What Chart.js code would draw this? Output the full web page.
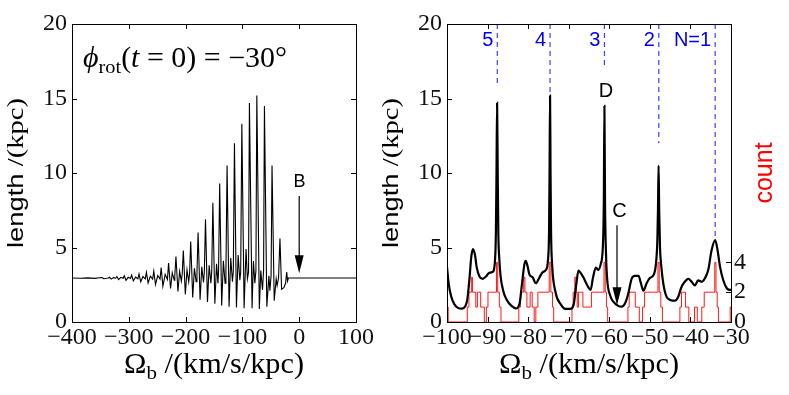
<!DOCTYPE html>
<html>
<head>
<meta charset="utf-8">
<script src="https://cdn.jsdelivr.net/npm/chart.js@4.4.1/dist/chart.umd.min.js"></script>
<style>
html, body { margin: 0; padding: 0; background: #fff; }
#wrap { position: relative; width: 789px; height: 395px; overflow: hidden; }
canvas { position: absolute; top: 0; }
#left { left: 0; }
#right { left: 375px; }
</style>
</head>
<body>
<div id="wrap">
  <canvas id="left" width="390" height="395"></canvas>
  <canvas id="right" width="414" height="395"></canvas>
</div>
<script>
// left panel: bar length vs pattern speed, full range
const leftX = [-400, -385, -372, -360, -352, -347, -344, -336,
  -334, -331, -327, -323, -321, -318, -314, -310, -308, -305, -301, -297,
  -295, -292, -288, -284, -282, -279, -275, -271, -269, -266, -262, -258,
  -256, -253, -249, -245, -243, -240, -236, -232, -230, -226.5, -223.5, -220, -219,
  -217, -213.5, -210.5, -207.5, -206, -204, -200.5, -197.5, -194.5, -193,
  -191, -187.5, -184.5, -181.5, -180, -178, -174.5, -171.5, -168.5, -167,
  -165, -161.5, -158.5, -155.5, -154, -152, -148.5, -145.5, -143, -142,
  -140, -136.5, -133.5, -130.5, -129, -127, -123.5, -120.5, -117.5, -116,
  -114, -110.5, -107.5, -104.5, -103, -101, -97, -93.6, -91.2, -89.2,
  -87.65, -83, -80.6, -78.1, -76.2, -74.6, -70.2, -67.6, -64.6, -62.7,
  -61.2, -57, -53.3, -51.6, -49.5, -47.85, -44, -40.5, -38.9, -36.4,
  -33.9, -31, -27, -24, -22, -20.5, -19, 0, 40, 100];
const leftY = [2.95, 2.94, 2.96, 2.93, 2.97, 2.99, 2.9, 2.95,
  3.0, 2.88, 2.98, 2.94, 3.05, 2.85, 3.0, 2.93, 3.1, 2.8, 3.0, 2.92,
  3.15, 2.76, 3.02, 2.9, 3.22, 2.7, 3.05, 2.9, 3.33, 2.62, 3.08, 2.88,
  3.42, 2.52, 3.12, 2.88, 3.65, 2.4, 3.2, 2.85, 3.95, 2.25, 3.3, 2.8, 3.1,
  4.4, 2.05, 3.4, 2.75, 3.2, 4.8, 1.85, 3.5, 2.7, 3.25,
  5.4, 1.65, 3.6, 2.7, 3.3, 6.0, 1.5, 3.7, 2.65, 3.35,
  6.9, 1.35, 3.8, 2.6, 3.4, 8.0, 1.22, 3.9, 2.6, 3.4,
  9.3, 1.1, 4.1, 2.6, 3.4, 10.5, 1.03, 4.3, 2.7, 3.4,
  12.0, 0.97, 4.5, 2.8, 3.35, 13.3, 0.92, 4.9, 2.9, 3.35,
  14.7, 0.92, 4.1, 2.6, 3.45, 15.2, 0.88, 3.45, 2.15, 3.5,
  14.5, 1.03, 3.1, 2.1, 3.1, 10.5, 1.43, 2.9, 2.45, 2.95,
  5.6, 2.2, 2.3, 2.6, 3.35, 2.75, 2.95, 2.95, 2.95, 2.95];

// right panel: zoom on -100..-30
const rightX = [-100, -99.6, -99.0, -98.2, -97.3, -96.3, -95.5, -95.0, -94.5, -94.0,
  -93.6, -93.1, -92.7, -92.0, -91.2, -90.4, -89.6, -88.8, -88.2, -87.95,
  -87.8, -87.65, -87.5, -87.35, -87.1, -86.8, -86.1, -85.3, -84.1, -83.0,
  -82.1, -81.5, -80.9, -80.6, -80.1, -79.7, -78.9, -78.1, -77.2, -76.4,
  -75.6, -75.1, -74.85, -74.72, -74.6, -74.48, -74.35, -74.1, -73.2, -72.0,
  -70.8, -69.6, -68.8, -68.1, -67.6, -67.2, -66.4, -65.2, -64.6, -64.0,
  -63.3, -62.7, -62.1, -61.6, -61.35, -61.2, -61.05, -60.8, -60.5, -59.8,
  -59.0, -57.8, -57.0, -56.1, -55.3, -54.5, -53.7, -52.8, -52.2, -51.6,
  -50.8, -50.0, -49.1, -48.5, -48.15, -48.0, -47.85, -47.7, -47.5, -47.2,
  -46.7, -45.9, -45.0, -43.8, -43.0, -42.2, -41.4, -40.5, -39.7, -38.9,
  -38.1, -37.2, -36.4, -35.6, -34.8, -33.9, -33.3, -32.7, -31.9, -31.0,
  -30.2, -30];
const rightY = [3.7, 2.6, 1.75, 1.2, 0.95, 0.9, 1.05, 1.5, 2.8, 4.4,
  4.9, 4.5, 3.7, 3.05, 2.9, 3.05, 3.3, 3.35, 4.0, 6.0,
  10, 14.7, 10, 6.0, 4.2, 3.1, 2.05, 1.5, 1.08, 0.92,
  1.25, 2.6, 3.9, 4.1, 3.7, 3.2, 3.0, 2.6, 3.0, 3.35,
  3.5, 4.2, 6.0, 10, 15.2, 10, 6.0, 3.9, 1.95, 1.2,
  0.88, 0.88, 1.15, 2.6, 3.45, 3.35, 3.0, 2.35, 2.15, 3.0,
  3.65, 3.5, 3.9, 5.0, 8.0, 14.5, 8.0, 4.5, 2.8, 1.8,
  1.36, 1.08, 1.03, 1.26, 1.93, 2.9, 3.1, 3.1, 2.6, 2.1,
  2.6, 2.95, 3.15, 3.9, 5.5, 7.5, 10.5, 7.5, 5.0, 3.8,
  2.6, 1.7, 1.48, 1.43, 1.7, 2.35, 2.7, 2.9, 2.7, 2.45,
  2.8, 2.7, 2.95, 3.5, 4.8, 5.5, 4.8, 3.7, 2.8, 2.25,
  2.15, 2.15];

// count histogram (step starts and counts)
const histEdges = [-100, -99.7, -95.0, -94.6, -94.0, -93.7, -92.9, -92.5, -91.7, -90.8,
  -90.3, -89.9, -87.8, -87.5, -87.1, -86.7, -82.3, -81.9, -81.1, -80.8,
  -80.3, -79.5, -79.0, -78.5, -78.1, -77.6, -74.8, -74.4, -74.0, -73.7,
  -69.2, -68.9, -68.5, -68.2, -67.9, -67.6, -66.5, -64.4, -61.3, -61.0,
  -60.7, -60.4, -55.4, -55.1, -53.6, -52.6, -51.8, -51.3, -48.0, -47.7,
  -47.3, -46.9, -42.6, -42.2, -41.2, -40.4, -39.0, -38.3, -37.2, -36.6,
  -34.0, -33.7, -33.4, -33.1, -30.2, -30];
const histCounts = [1, 0, 1, 2, 3, 2, 1, 2, 1, 0,
  1, 2, 4, 2, 1, 0, 1, 2, 3, 2,
  1, 2, 1, 0, 1, 2, 4, 2, 1, 0,
  1, 2, 3, 2, 1, 2, 1, 2, 4, 2,
  1, 0, 1, 2, 1, 0, 1, 2, 4, 2,
  1, 0, 1, 2, 1, 0, 1, 0, 1, 2,
  4, 2, 1, 0, 1, 1];

// resonances N = 5..1
const resLabels = ['5', '4', '3', '2', 'N=1'];
const resX = [-87.6, -74.6, -61.2, -47.8, -33.9];
const resEnd = [16.0, 15.4, 17.0, 12.0, 5.7];
const countTicks = [0, 2, 4];

const serif = "'Liberation Serif', 'DejaVu Serif', serif";
const sans = "'Liberation Sans', Arial, sans-serif";

function pts(xs, ys) {
  return xs.map((x, i) => ({ x: x, y: ys[i] }));
}
function minus(v) {
  return String(v).replace('-', '\u2212');
}

// draw a line of mixed-font text, optionally stretched to a width
function richText(ctx, parts, x, y, opt) {
  opt = opt || {};
  let w = 0;
  parts.forEach(p => { ctx.font = p.font; p.w = ctx.measureText(p.t).width; w += p.w; });
  const sx = opt.width ? opt.width / w : 1;
  ctx.save();
  ctx.translate(x, y);
  if (opt.rotate) ctx.rotate(opt.rotate);
  ctx.scale(sx, opt.sy || 1);
  ctx.textBaseline = 'alphabetic';
  ctx.textAlign = 'left';
  ctx.fillStyle = opt.color || '#000';
  let cx = opt.align === 'left' ? 0 : -w / 2;
  parts.forEach(p => { ctx.font = p.font; ctx.fillText(p.t, cx, p.dy || 0); cx += p.w; });
  ctx.restore();
}

function arrowDown(ctx, x, y1, y2) {
  ctx.save();
  ctx.strokeStyle = '#000';
  ctx.fillStyle = '#000';
  ctx.lineWidth = 1.2;
  ctx.beginPath();
  ctx.moveTo(x, y1);
  ctx.lineTo(x, y2 - 12);
  ctx.stroke();
  ctx.beginPath();
  ctx.moveTo(x - 4.5, y2 - 18);
  ctx.lineTo(x + 4.5, y2 - 18);
  ctx.lineTo(x, y2);
  ctx.closePath();
  ctx.fill();
  ctx.restore();
}

function axisTitles(chart) {
  const ctx = chart.ctx;
  const a = chart.chartArea;
  const cx = (a.left + a.right) / 2;
  richText(ctx, [
    { t: '\u03A9', font: '26px ' + serif },
    { t: 'b', font: '18px ' + serif, dy: 5 },
    { t: ' /(km/s/kpc)', font: '26px ' + serif }
  ], cx, 373, { width: 180, sy: 1.1 });
  richText(ctx, [
    { t: 'length', font: '22px ' + sans },
    { t: ' /(kpc)', font: '23px ' + serif }
  ], 23, (a.top + a.bottom) / 2, { width: 150, rotate: -Math.PI / 2 });
}

// box with inward tick marks on every side (matplotlib style)
const frame = {
  id: 'frame',
  afterDraw(chart, args, opts) {
    const { ctx, chartArea: a, scales } = chart;
    const L = 5;
    ctx.save();
    ctx.strokeStyle = '#000';
    ctx.lineWidth = 1;
    ctx.strokeRect(a.left + 0.5, a.top + 0.5, a.right - a.left, a.bottom - a.top);
    ctx.beginPath();
    scales.x.ticks.forEach(t => {
      const px = Math.round(scales.x.getPixelForValue(t.value)) + 0.5;
      ctx.moveTo(px, a.bottom); ctx.lineTo(px, a.bottom - L);
      ctx.moveTo(px, a.top); ctx.lineTo(px, a.top + L);
    });
    scales.y.ticks.forEach(t => {
      const py = Math.round(scales.y.getPixelForValue(t.value)) + 0.5;
      ctx.moveTo(a.left, py); ctx.lineTo(a.left + L, py);
      if (opts.mirrorY) { ctx.moveTo(a.right, py); ctx.lineTo(a.right - L, py); }
    });
    if (scales.y2) {
      scales.y2.ticks.forEach(t => {
        const py = Math.round(scales.y2.getPixelForValue(t.value)) + 0.5;
        ctx.moveTo(a.right, py); ctx.lineTo(a.right - L, py);
      });
    }
    ctx.stroke();
    ctx.restore();
  }
};

const leftText = {
  id: 'leftText',
  afterDraw(chart) {
    const ctx = chart.ctx;
    const xs = chart.scales.x, ys = chart.scales.y;
    axisTitles(chart);
    richText(ctx, [
      { t: '\u03D5', font: 'italic 25px ' + serif },
      { t: 'rot', font: '17px ' + serif, dy: 5 },
      { t: '(', font: '25px ' + serif },
      { t: 't', font: 'italic 25px ' + serif },
      { t: ' = 0) = \u221230\u00B0', font: '25px ' + serif }
    ], 83, 67, { width: 204, sy: 1.15, align: 'left' });
    ctx.save();
    ctx.font = '18px ' + sans;
    ctx.fillStyle = '#000';
    ctx.textAlign = 'center';
    ctx.textBaseline = 'middle';
    ctx.fillText('B', xs.getPixelForValue(0.5), ys.getPixelForValue(9.4));
    ctx.restore();
    arrowDown(ctx, xs.getPixelForValue(0), ys.getPixelForValue(8.46), ys.getPixelForValue(3.27));
  }
};

const rightText = {
  id: 'rightText',
  afterDraw(chart) {
    const ctx = chart.ctx;
    const xs = chart.scales.x, ys = chart.scales.y;
    axisTitles(chart);
    richText(ctx, [{ t: 'count', font: '25px ' + sans }], 397, 173,
      { rotate: -Math.PI / 2, color: '#ff0000' });
    ctx.save();
    ctx.textBaseline = 'middle';
    ctx.font = '20px ' + sans;
    ctx.fillStyle = '#0000ee';
    ctx.textAlign = 'right';
    resLabels.forEach((s, i) => {
      ctx.fillText(s, xs.getPixelForValue(resX[i]) - 4, ys.getPixelForValue(18.9));
    });
    ctx.fillStyle = '#000';
    ctx.textAlign = 'center';
    ctx.fillText('D', xs.getPixelForValue(-60.8), ys.getPixelForValue(15.5));
    ctx.fillText('C', xs.getPixelForValue(-57.5), ys.getPixelForValue(7.4));
    ctx.restore();
    arrowDown(ctx, xs.getPixelForValue(-58.1), ys.getPixelForValue(6.5), ys.getPixelForValue(1.12));
  }
};

const tickFont = { family: serif, size: 24 };
const noGrid = { display: false, drawTicks: false };

new Chart(document.getElementById('left'), {
  type: 'line',
  data: {
    datasets: [{
      data: pts(leftX, leftY),
      borderColor: '#000',
      borderWidth: 1.1,
      pointRadius: 0,
      tension: 0
    }]
  },
  options: {
    responsive: false,
    animation: false,
    layout: { padding: { top: 24, right: 34, left: 0, bottom: 0 } },
    plugins: { legend: { display: false }, tooltip: { enabled: false }, frame: { mirrorY: true } },
    scales: {
      x: {
        type: 'linear', min: -400, max: 100,
        grid: noGrid, border: { display: false },
        ticks: { stepSize: 100, autoSkip: false, maxRotation: 0, padding: 1, color: '#111', font: tickFont, callback: minus },
        afterFit: s => { s.height = 73; }
      },
      y: {
        min: 0, max: 20,
        grid: noGrid, border: { display: false },
        ticks: { stepSize: 5, padding: 5, color: '#111', font: tickFont },
        afterFit: s => { s.width = 72; }
      }
    }
  },
  plugins: [frame, leftText]
});

const resSets = resX.map((x, i) => ({
  data: [{ x: x, y: 20 }, { x: x, y: resEnd[i] }],
  borderColor: 'rgba(30,30,255,0.85)',
  borderWidth: 1.2,
  borderDash: [5, 4],
  pointRadius: 0,
  yAxisID: 'y'
}));

new Chart(document.getElementById('right'), {
  type: 'line',
  data: {
    datasets: [{
      data: pts(rightX, rightY),
      borderColor: '#000',
      borderWidth: 2.2,
      pointRadius: 0,
      cubicInterpolationMode: 'monotone',
      yAxisID: 'y'
    }, {
      data: pts(histEdges, histCounts),
      borderColor: 'rgba(255,0,0,0.9)',
      borderWidth: 1,
      pointRadius: 0,
      stepped: true,
      yAxisID: 'y2'
    }].concat(resSets)
  },
  options: {
    responsive: false,
    animation: false,
    layout: { padding: { top: 24, right: 0, left: 0, bottom: 0 } },
    plugins: { legend: { display: false }, tooltip: { enabled: false }, frame: { mirrorY: false } },
    scales: {
      x: {
        type: 'linear', min: -100, max: -30,
        grid: noGrid, border: { display: false },
        ticks: { stepSize: 10, autoSkip: false, maxRotation: 0, padding: 1, color: '#111', font: tickFont, callback: minus },
        afterFit: s => { s.height = 73; }
      },
      y: {
        min: 0, max: 20,
        grid: noGrid, border: { display: false },
        ticks: { stepSize: 5, padding: 5, color: '#111', font: tickFont },
        afterFit: s => { s.width = 72; }
      },
      y2: {
        position: 'right', min: 0, max: 20,
        grid: noGrid, border: { display: false },
        ticks: { padding: 3, color: '#111', font: tickFont },
        afterBuildTicks: s => { s.ticks = countTicks.map(v => ({ value: v })); },
        afterFit: s => { s.width = 58; }
      }
    }
  },
  plugins: [frame, rightText]
});
</script>
</body>
</html>
